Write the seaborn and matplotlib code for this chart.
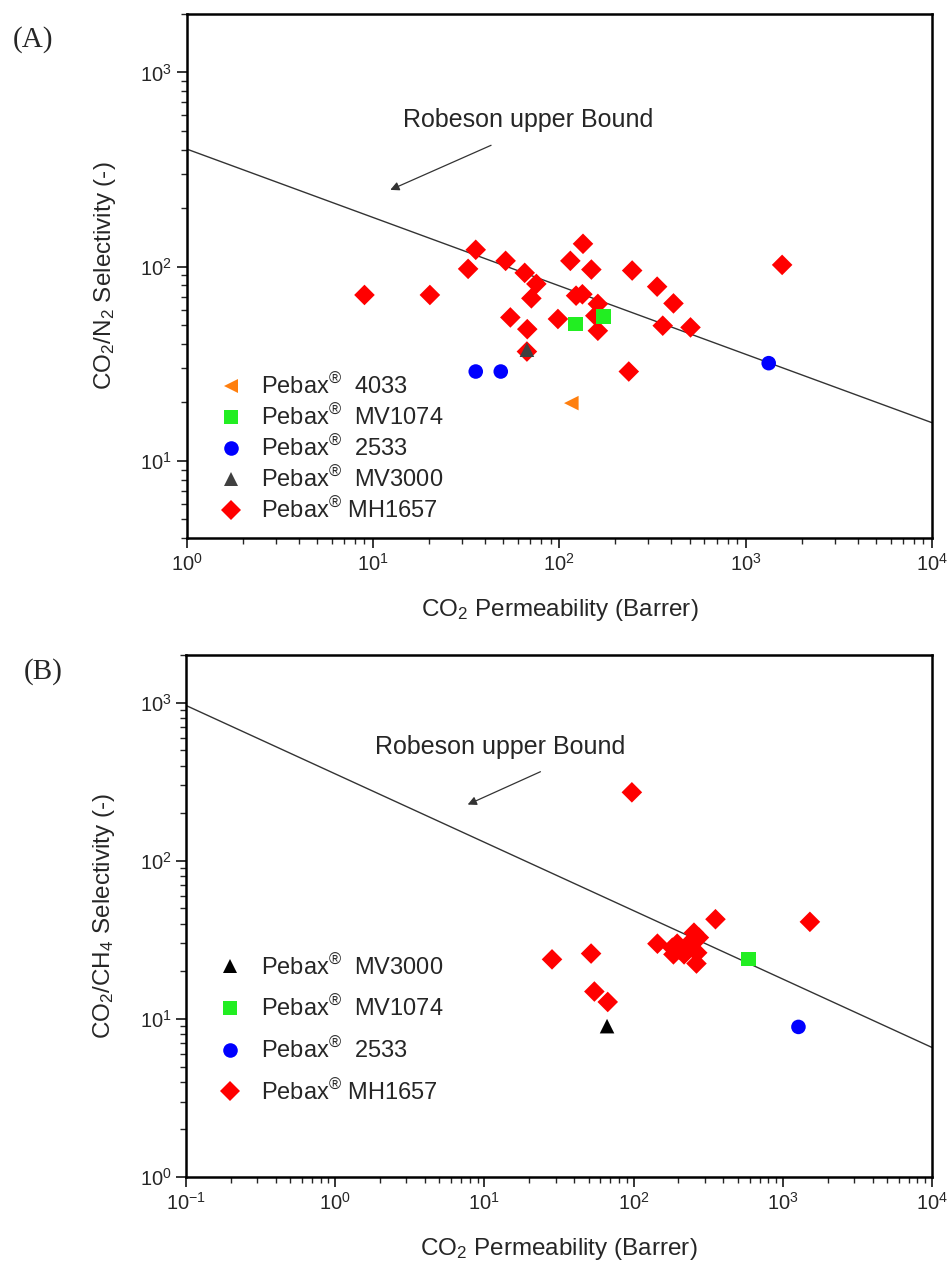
import numpy as np
import pandas as pd
import seaborn as sns
import matplotlib.pyplot as plt
from matplotlib.ticker import LogLocator, NullFormatter

# ---- panel A : CO2/N2 ----
mh1657_a_x = [9.0, 20.2, 32.4, 35.6, 51.5, 65.2, 75.3, 70.8, 54.6, 67.3, 67.0, 98.3, 114.6, 134,
              123, 133, 148.6, 161, 156, 161, 246, 236, 335, 410, 359, 506, 1570]
mh1657_a_y = [71.4, 71.4, 97.3, 122, 107, 92.8, 81.4, 68.6, 54.7, 47.6, 36.5, 53.7, 107, 131,
              70.8, 72, 96.5, 64.2, 55.8, 46.7, 95.4, 28.8, 78.8, 64.6, 49.6, 48.6, 102]
p2533_a_x = [35.6, 48.5, 1330]
p2533_a_y = [28.8, 28.8, 31.8]
mv1074_a_x = [122, 173]
mv1074_a_y = [50.6, 55.2]
mv3000_a_x = [67]
mv3000_a_y = [37.3]
p4033_a_x = [116]
p4033_a_y = [19.8]
robeson_a_x = [1, 1e4]
robeson_a_y = [403, 15.7]

# ---- panel B : CO2/CH4 ----
mh1657_b_x = [97.4, 354, 1520, 144.5, 28.4, 51.9, 54.6, 67.1, 182, 196, 212, 185, 218, 254,
              274, 241, 267, 264, 202]
mh1657_b_y = [271, 42.7, 41.1, 29.9, 23.8, 25.9, 14.9, 12.8, 28.2, 29.9, 26.9, 25.6, 25.6, 35.1,
              32.7, 30.7, 26.2, 22.4, 27.5]
mv1074_b_x = [590]
mv1074_b_y = [24.0]
p2533_b_x = [1274]
p2533_b_y = [8.9]
mv3000_b_x = [66.4]
mv3000_b_y = [9.0]
robeson_b_x = [0.1, 1e4]
robeson_b_y = [960, 6.6]

lab = {g: "Pebax$^{®}$  " + g for g in ["4033", "MV1074", "2533", "MV3000"]}
lab["MH1657"] = "Pebax$^{®}$ MH1657"


def frame(parts):
    rows = []
    for g, xs, ys in parts:
        rows += [(lab[g], x, y) for x, y in zip(xs, ys)]
    return pd.DataFrame(rows, columns=["grade", "perm", "sel"])


df_a = frame([("MH1657", mh1657_a_x, mh1657_a_y), ("2533", p2533_a_x, p2533_a_y),
              ("MV1074", mv1074_a_x, mv1074_a_y), ("MV3000", mv3000_a_x, mv3000_a_y),
              ("4033", p4033_a_x, p4033_a_y)])
df_b = frame([("MH1657", mh1657_b_x, mh1657_b_y), ("MV1074", mv1074_b_x, mv1074_b_y),
              ("2533", p2533_b_x, p2533_b_y), ("MV3000", mv3000_b_x, mv3000_b_y)])

sns.set_style("white")
plt.rcParams["font.family"] = ["Liberation Sans", "DejaVu Sans"]
plt.rcParams["mathtext.default"] = "regular"

fig = plt.figure(figsize=(9.5, 12.7), dpi=100)
axA = fig.add_axes([0.1965, 0.5764, 0.7845, 0.4126])
axB = fig.add_axes([0.1958, 0.0732, 0.7852, 0.4110])


def draw(ax, df, order, colors, markers, rob_x, rob_y, xlim, ylim, ylabel, leg_anchor, spacing,
         txt_xy, head, tail):
    ax.plot(rob_x, rob_y, color="#333333", lw=1.0, zorder=1)
    sns.scatterplot(data=df, x="perm", y="sel", hue="grade", style="grade",
                    hue_order=order, style_order=order,
                    palette=colors, markers=markers, s=110, linewidth=0, ax=ax, zorder=3)
    ax.set_xscale("log")
    ax.set_yscale("log")
    ax.set_xlim(*xlim)
    ax.set_ylim(*ylim)
    for axis in (ax.xaxis, ax.yaxis):
        axis.set_minor_locator(LogLocator(base=10, subs=np.arange(2, 10), numticks=100))
        axis.set_minor_formatter(NullFormatter())
    ax.tick_params(which="major", direction="out", length=7, width=1.3, labelsize=14.5,
                   bottom=True, left=True)
    ax.tick_params(which="minor", direction="out", length=4, width=1.0, bottom=True, left=True)
    for sp in ax.spines.values():
        sp.set_linewidth(1.8)
        sp.set_color("black")
    ax.set_xlabel("CO$_2$ Permeability (Barrer)", fontsize=17.5, labelpad=16)
    ax.set_ylabel(ylabel, fontsize=17.5, labelpad=16)
    ax.annotate("", xy=head, xytext=tail,
                arrowprops=dict(arrowstyle="-|>", color="#333333", lw=0.9, mutation_scale=13))
    ax.text(*txt_xy, "Robeson upper Bound", fontsize=18, ha="center", va="center")
    sns.move_legend(ax, "upper left", bbox_to_anchor=leg_anchor, frameon=False, title=None,
                    fontsize=17, labelspacing=spacing, handletextpad=0.3, markerscale=1.0,
                    borderpad=0.2)


order_a = [lab[g] for g in ["4033", "MV1074", "2533", "MV3000", "MH1657"]]
colors_a = {lab["4033"]: "#ff7f0e", lab["MV1074"]: "#22ee22", lab["2533"]: "#0000ff",
            lab["MV3000"]: "#404040", lab["MH1657"]: "#ff0000"}
markers_a = {lab["4033"]: "<", lab["MV1074"]: "s", lab["2533"]: "o",
             lab["MV3000"]: "^", lab["MH1657"]: "D"}
draw(axA, df_a, order_a, colors_a, markers_a, robeson_a_x, robeson_a_y, (1, 1e4), (4, 2000),
     "CO$_2$/N$_2$ Selectivity (-)", (0.005, 0.345), 0.25, (68.4, 569), (12.0, 245), (44.4, 427))

order_b = [lab[g] for g in ["MV3000", "MV1074", "2533", "MH1657"]]
colors_b = {lab["MV3000"]: "#000000", lab["MV1074"]: "#22ee22", lab["2533"]: "#0000ff",
            lab["MH1657"]: "#ff0000"}
markers_b = {lab["MV3000"]: "^", lab["MV1074"]: "s", lab["2533"]: "o", lab["MH1657"]: "D"}
draw(axB, df_b, order_b, colors_b, markers_b, robeson_b_x, robeson_b_y, (0.1, 1e4), (1, 2000),
     "CO$_2$/CH$_4$ Selectivity (-)", (0.005, 0.458), 0.7, (12.8, 522), (7.43, 223), (24.7, 372))

fig.text(0.035, 0.969, "(A)", fontsize=21, family="Liberation Serif", ha="center", va="center")
fig.text(0.045, 0.471, "(B)", fontsize=21, family="Liberation Serif", ha="center", va="center")

fig.savefig("out.png", dpi=100)
